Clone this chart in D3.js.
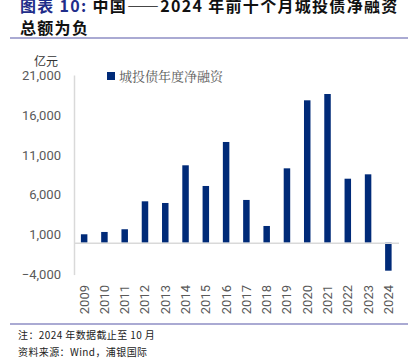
<!DOCTYPE html>
<html lang="zh">
<head>
<meta charset="UTF-8">
<title>城投债年度净融资</title>
<script src="https://cdnjs.cloudflare.com/ajax/libs/d3/7.8.5/d3.min.js"></script>
<style>
    body { margin: 0; background: #fff; }
    svg { display: block; font-family: "Noto Sans CJK SC", "Noto Sans", sans-serif; }
</style>
</head>
<body>
<svg id="chart" width="416" height="360"></svg>
<script>
// data
const years = ["2009","2010","2011","2012","2013","2014","2015","2016","2017","2018","2019","2020","2021","2022","2023","2024"];
const netFinancing = [1050, 1340, 1680, 5180, 4970, 9690, 7100, 12610, 5350, 2090, 9310, 17830, 18620, 8010, 8560, -3510];
const yTicks = [-4000, 1000, 6000, 11000, 16000, 21000];
const seriesName = "城投债年度净融资";

const svg = d3.select("#chart");
const margin = { top: 75, left: 74, right: 18, bottom: 85 };

const x = d3.scaleBand().domain(years).range([margin.left, 398.5]).paddingInner(0.68).paddingOuter(0.34);
const y = d3.scaleLinear().domain([-4000, 21000]).range([274.6, 75]);

// title (top line is cut by the page edge, as in the source image)
const title = svg.append("text").attr("x", 20).attr("y", 12)
    .attr("font-size", 16).attr("font-weight", "bold").attr("letter-spacing", 1.3);
title.append("tspan").attr("fill", "#1f2d8a").text("图表 10: ");
title.append("tspan").attr("fill", "#111").text("中国——2024 年前十个月城投债净融资");
svg.append("text").attr("x", 20).attr("y", 34)
    .attr("font-size", 16).attr("font-weight", "bold").attr("letter-spacing", 1.3)
    .attr("fill", "#111").text("总额为负");
svg.append("line").attr("x1", 10).attr("x2", 408).attr("y1", 38).attr("y2", 38)
    .attr("stroke", "#8e8ec4").attr("stroke-width", 1.5);

// y axis
const yAxis = svg.append("g").attr("transform", `translate(${margin.left},0)`)
    .call(d3.axisLeft(y).tickValues(yTicks).tickSize(0).tickPadding(13).tickFormat(d3.format(",")));
yAxis.select(".domain").attr("stroke", "#d9d9d9").attr("stroke-width", 1.5);
yAxis.selectAll("text").attr("font-size", 13).attr("fill", "#595959")
    .attr("font-family", "Roboto, 'Noto Sans', sans-serif");

svg.append("text").attr("x", 58).attr("y", 66).attr("text-anchor", "end")
    .attr("font-size", 12).attr("fill", "#333").text("亿元");

// bars
svg.append("g").selectAll("rect").data(netFinancing).join("rect")
    .attr("x", (d, i) => x(years[i]))
    .attr("width", x.bandwidth())
    .attr("y", d => y(Math.max(0, d)))
    .attr("height", d => Math.abs(y(d) - y(0)))
    .attr("fill", "#002a78");

// zero line
const xAxis = svg.append("g").attr("transform", `translate(0,${y(0)})`)
    .call(d3.axisBottom(x).tickSize(0).tickFormat(""));
xAxis.select(".domain").attr("stroke", "#d9d9d9").attr("stroke-width", 1.5);

// year labels
svg.append("g").selectAll("text").data(years).join("text")
    .attr("transform", d => `translate(${x(d) + x.bandwidth() / 2 + 4.5},285) rotate(-90)`)
    .attr("text-anchor", "end")
    .attr("font-size", 13).attr("fill", "#595959")
    .attr("font-family", "Roboto, 'Noto Sans', sans-serif")
    .text(d => d);

// legend
svg.append("rect").attr("x", 107).attr("y", 72).attr("width", 8).attr("height", 8).attr("fill", "#002a78");
svg.append("text").attr("x", 119).attr("y", 80.5).attr("font-size", 13).attr("fill", "#595959")
    .attr("font-family", "'Noto Serif CJK SC', 'Noto Sans CJK SC', sans-serif").text(seriesName);

// footer
svg.append("line").attr("x1", 10).attr("x2", 408).attr("y1", 324).attr("y2", 324)
    .attr("stroke", "#8e8ec4").attr("stroke-width", 1.5);
svg.append("text").attr("x", 18).attr("y", 339).attr("font-size", 10).attr("fill", "#222")
    .attr("letter-spacing", 0.4).text("注：2024 年数据截止至 10 月");
svg.append("text").attr("x", 18).attr("y", 356).attr("font-size", 10).attr("fill", "#222")
    .attr("letter-spacing", 0.4).text("资料来源：Wind，浦银国际");
</script>
</body>
</html>
